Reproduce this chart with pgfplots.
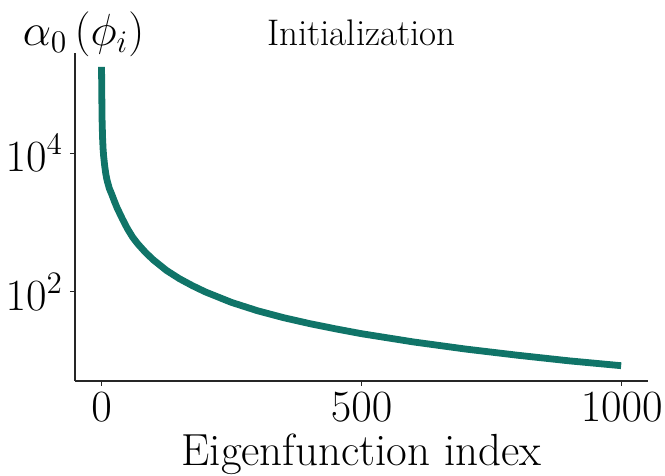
\RequirePackage{fix-cm}
\documentclass[border=0pt]{standalone}
\usepackage{pgfplots}
\pgfplotsset{compat=1.18}
\definecolor{curve}{RGB}{16,116,104}
\definecolor{spine}{RGB}{38,38,38}
\pgfplotstableread{
i val
0 174000
1 31600
2 16600
3 11500
4 9120
6 6610
8 5130
10 4270
12 3720
15 3090
20 2510
25 2000
30 1620
40 1130
50 810
60 612
70 490
85 368
100 288
125 204
150 155
175 123
200 100
250 70.8
300 53.7
350 42.7
400 35.1
450 29.5
500 25.1
600 19.1
700 15.1
800 12.3
900 10.2
999 8.7
}\datatable
\begin{document}
\begin{tikzpicture}
\useasboundingbox (-37.5pt,-47.5pt) rectangle (295pt,190.5pt);
\begin{axis}[
  at={(0pt,0pt)}, anchor=south west,
  scale only axis, width=286.5pt, height=164pt,
  ymode=log, log basis y=10,
  xmin=-51, xmax=1050.6, ymin=5.24, ymax=2.75e5,
  axis x line*=bottom, axis y line*=left,
  axis line style={spine, line width=1.3pt, -},
  xtick={0,500,1000}, ytick={100,10000},
  xticklabel style={/pgf/number format/1000 sep={}},
  yminorticks=false, xminorticks=false,
  tick align=outside, major tick length=2.5pt,
  every tick/.style={spine, line width=0.5pt},
  tick label style={font=\fontsize{22.3}{26}\selectfont},
  xlabel={Eigenfunction index},
  every axis x label/.style={at={(axis description cs:0.5,0)}, anchor=base, yshift=-42.5pt, font=\fontsize{22.5}{26}\selectfont},
  title={Initialization},
  every axis title/.style={at={(axis description cs:0.5,1)}, anchor=base, yshift=3.5pt, font=\fontsize{18.5}{22}\selectfont},
  ylabel={$\alpha_0\left(\phi_i\right)$},
  every axis y label/.style={at={(axis description cs:0,1)}, anchor=base, xshift=4.25pt, yshift=3.5pt, font=\fontsize{22.5}{26}\selectfont},
  clip=false,
]
\addplot[curve, line width=3.4pt, line join=round] table[x=i, y=val] {\datatable};
\end{axis}
\end{tikzpicture}
\end{document}
